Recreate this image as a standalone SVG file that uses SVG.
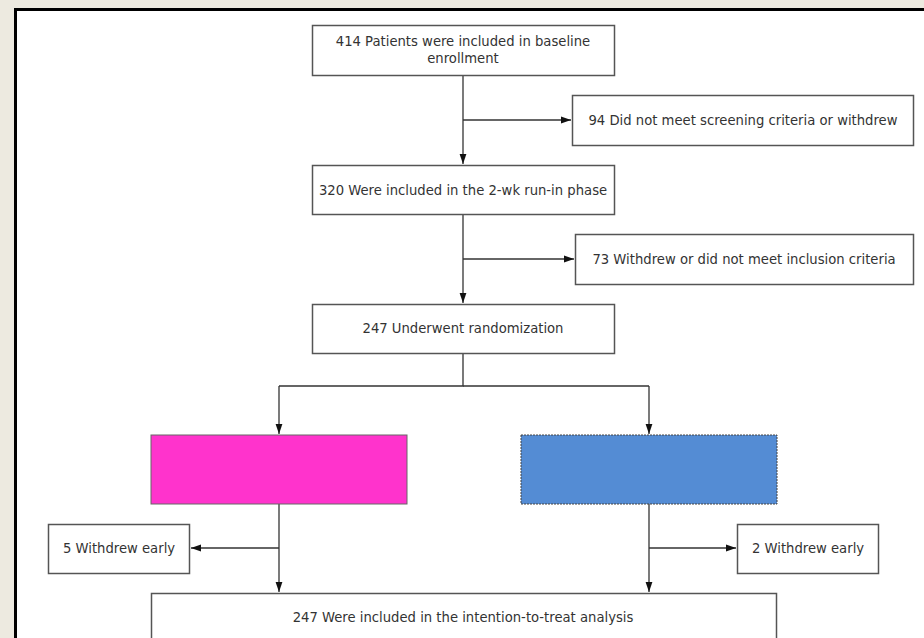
<svg xmlns="http://www.w3.org/2000/svg" width="924" height="638" viewBox="0 0 924 638">
<defs>
<marker id="ah" markerWidth="10" markerHeight="8" refX="10" refY="4" orient="auto" markerUnits="userSpaceOnUse">
<path d="M0,0.6 L10,4 L0,7.4 Z" fill="#111"/>
</marker>
<style>
.box{fill:#fff;stroke:#555;stroke-width:1.5}
.t{font-family:"DejaVu Sans","Liberation Sans",sans-serif;font-size:13.2px;fill:#333;text-anchor:middle}
.c{fill:none;stroke:#333;stroke-width:1.3}
</style>
</defs>
<rect x="0" y="0" width="924" height="638" fill="#edeae0"/>
<rect x="15.5" y="9.5" width="930" height="650" fill="#fff" stroke="#000" stroke-width="3"/>
<g id="connectors">
<path class="c" d="M463,75 V164" marker-end="url(#ah)"/>
<path class="c" d="M463,120 H571" marker-end="url(#ah)"/>
<path class="c" d="M463,214 V303" marker-end="url(#ah)"/>
<path class="c" d="M463,259 H574" marker-end="url(#ah)"/>
<path class="c" d="M463,353 V386 H279"/>
<path class="c" d="M463,386 H649"/>
<path class="c" d="M279,386 V434" marker-end="url(#ah)"/>
<path class="c" d="M649,386 V434" marker-end="url(#ah)"/>
<path class="c" d="M279,504 V592" marker-end="url(#ah)"/>
<path class="c" d="M279,548 H191" marker-end="url(#ah)"/>
<path class="c" d="M649,504 V592" marker-end="url(#ah)"/>
<path class="c" d="M649,548 H736" marker-end="url(#ah)"/>
</g>
<g id="n1"><rect class="box" x="312.5" y="25.5" width="302" height="50"/>
<text class="t" x="463" y="46">414 Patients were included in baseline</text>
<text class="t" x="463" y="63">enrollment</text></g>
<g id="n2"><rect class="box" x="572.5" y="95.5" width="341" height="50"/>
<text class="t" x="743" y="124.5">94 Did not meet screening criteria or withdrew</text></g>
<g id="n3"><rect class="box" x="312.5" y="165.5" width="302" height="49"/>
<text class="t" x="463" y="194.5">320 Were included in the 2-wk run-in phase</text></g>
<g id="n4"><rect class="box" x="575.5" y="234.5" width="338" height="50"/>
<text class="t" x="744" y="263.5">73 Withdrew or did not meet inclusion criteria</text></g>
<g id="n5"><rect class="box" x="312.5" y="304.5" width="302" height="49"/>
<text class="t" x="463" y="333">247 Underwent randomization</text></g>
<g id="n6"><rect x="151" y="435" width="256" height="69" fill="#ff33cc" stroke="#666" stroke-width="1"/></g>
<g id="n7"><rect x="521" y="435" width="256" height="69" fill="#548cd4" stroke="#444" stroke-width="1" stroke-dasharray="2,1"/></g>
<g id="n8"><rect class="box" x="48.5" y="524.5" width="141" height="49"/>
<text class="t" x="119" y="553">5 Withdrew early</text></g>
<g id="n9"><rect class="box" x="737.5" y="524.5" width="141" height="49"/>
<text class="t" x="808" y="553">2 Withdrew early</text></g>
<g id="n10"><rect class="box" x="151.5" y="593.5" width="625" height="60"/>
<text class="t" x="463" y="622">247 Were included in the intention-to-treat analysis</text></g>
</svg>
